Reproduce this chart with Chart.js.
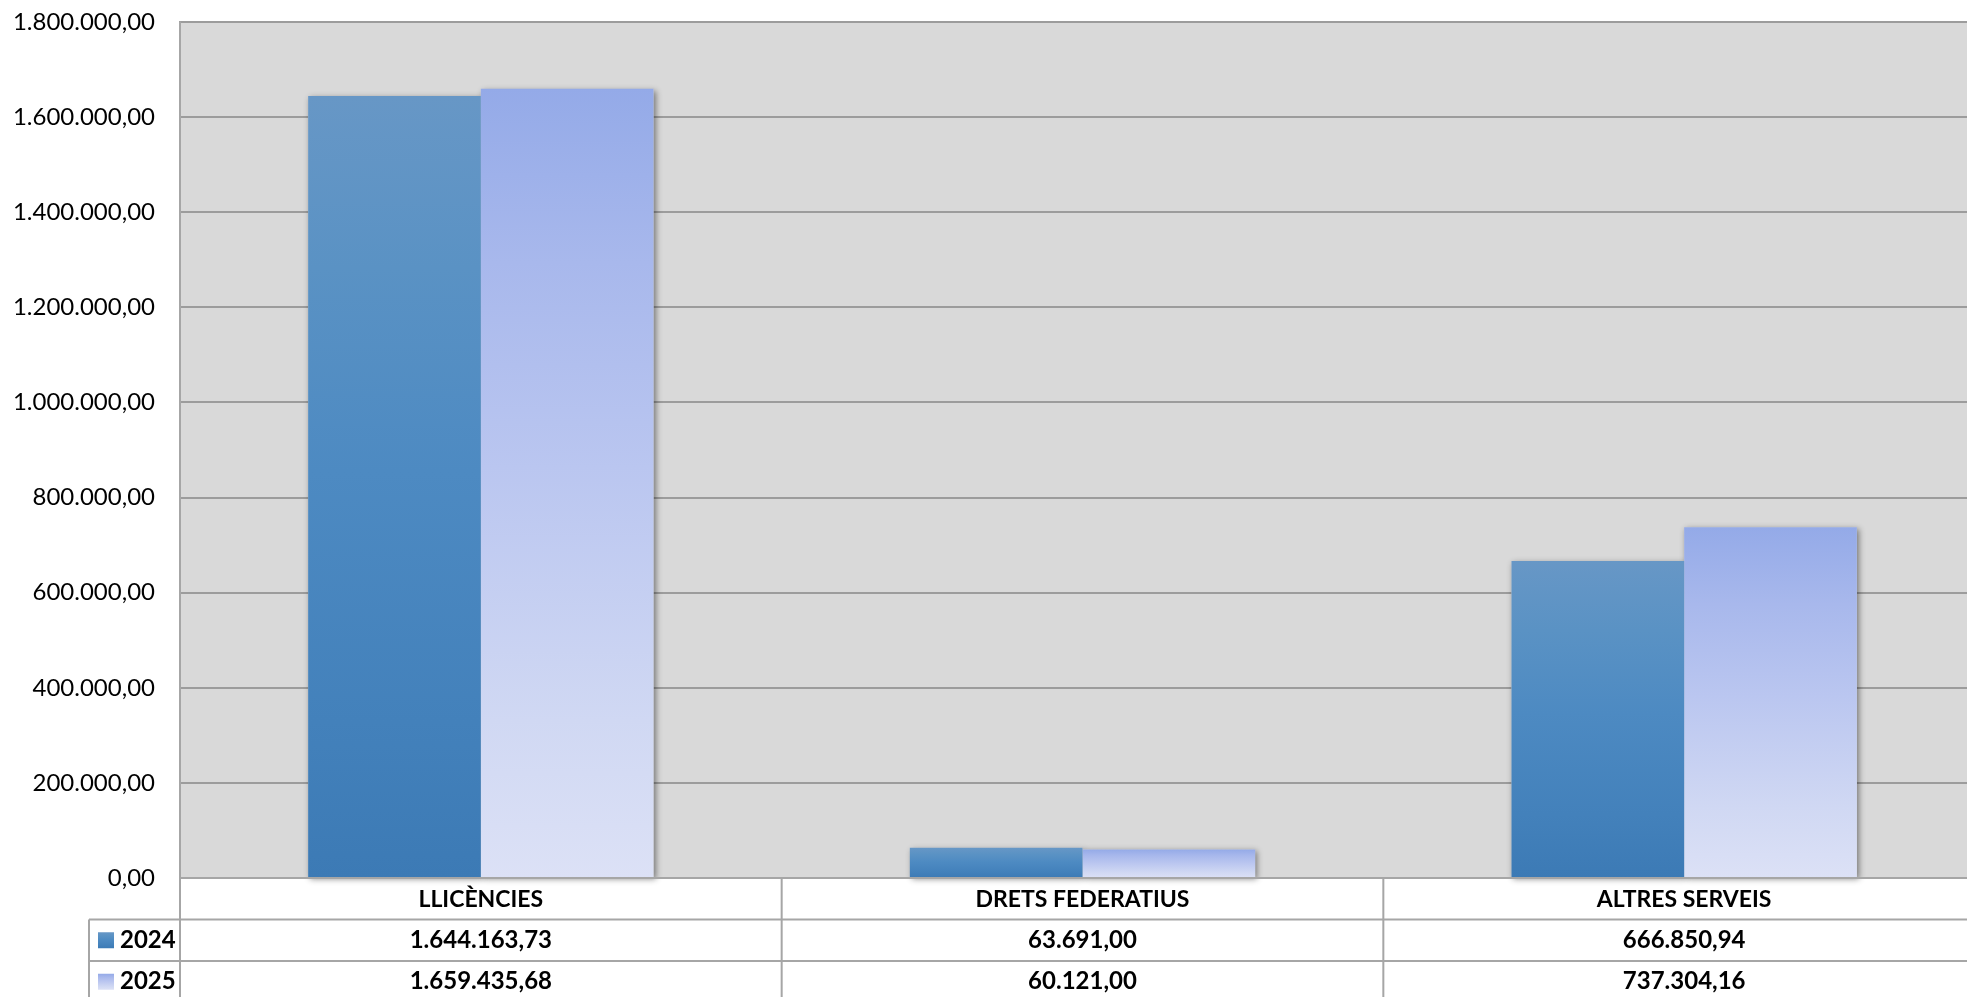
<!DOCTYPE html>
<html>
<head>
<meta charset="utf-8">
<script src="https://cdn.jsdelivr.net/npm/chart.js@4.4.1/dist/chart.umd.min.js"></script>
<style>
    html, body { margin: 0; padding: 0; background: #fff; overflow: hidden; }
    #wrap { width: 1985px; height: 997px; }
</style>
</head>
<body>
<div id="wrap"><canvas id="ingressos"></canvas></div>
<script>
// DADES
const categories = ['LLICÈNCIES', 'DRETS FEDERATIUS', 'ALTRES SERVEIS'];
const years = ['2024', '2025'];
const values2024 = [1644163.73, 63691.00, 666850.94];
const values2025 = [1659435.68, 60121.00, 737304.16];
const yTicks = [0, 200000, 400000, 600000, 800000, 1000000, 1200000, 1400000, 1600000, 1800000];

// colors del degradat (de dalt a baix)
const stops2024 = [[0, '#6797C6'], [0.22, '#5A92C4'], [0.48, '#4D8AC2'], [0.8, '#4381BB'], [1, '#3C7AB5']];
const stops2025 = [[0, '#94AAE8'], [0.22, '#A8B8EC'], [0.48, '#BAC6F0'], [0.8, '#D0D8F3'], [1, '#DCE1F6']];

// format català: 1.644.163,73
function fmt(v) {
    const parts = v.toFixed(2).split('.');
    return parts[0].replace(/\B(?=(\d{3})+(?!\d))/g, '.') + ',' + parts[1];
}

function gradient(ctx, y1, y0, stops) {
    const g = ctx.createLinearGradient(0, y1, 0, y0);
    stops.forEach(s => g.addColorStop(s[0], s[1]));
    return g;
}

function barFill(stops) {
    return function (c) {
        const chart = c.chart;
        if (!chart.chartArea || c.raw === undefined) return stops[0][1];
        const y = chart.scales.y;
        return gradient(chart.ctx, y.getPixelForValue(c.raw), y.getPixelForValue(0), stops);
    };
}

// fons gris de l'àrea del gràfic
const plotBackground = {
    id: 'plotBackground',
    beforeDraw(chart) {
        const { ctx, chartArea: a } = chart;
        ctx.save();
        ctx.fillStyle = '#D9D9D9';
        ctx.fillRect(a.left, a.top, a.right - a.left, a.bottom - a.top);
        ctx.restore();
    }
};

// ombra de les barres
const barShadow = {
    id: 'barShadow',
    beforeDatasetsDraw(chart) {
        const ctx = chart.ctx;
        ctx.save();
        ctx.shadowColor = 'rgba(0, 0, 0, 0.45)';
        ctx.shadowBlur = 6;
        ctx.shadowOffsetX = 2;
        ctx.shadowOffsetY = 2;
        ctx.fillStyle = '#D9D9D9';
        chart.data.datasets.forEach((ds, i) => {
            chart.getDatasetMeta(i).data.forEach(bar => {
                const w = bar.width;
                ctx.fillRect(bar.x - w / 2, bar.y, w, bar.base - bar.y);
            });
        });
        ctx.restore();
    }
};

// taula de dades sota el gràfic
const dataTable = {
    id: 'dataTable',
    afterDraw(chart) {
        const { ctx, chartArea: a } = chart;
        const x = chart.scales.x;
        const rowH = 41.5;
        const legendLeft = 89;
        const top = a.bottom;
        const rows = [top, top + rowH, top + 2 * rowH, top + 3 * rowH];
        const half = (x.getPixelForValue(1) - x.getPixelForValue(0)) / 2;

        ctx.save();
        ctx.strokeStyle = '#A6A6A6';
        ctx.lineWidth = 2;
        ctx.beginPath();
        // línies horitzontals
        ctx.moveTo(a.left, rows[0]); ctx.lineTo(a.right, rows[0]);
        ctx.moveTo(legendLeft, rows[1]); ctx.lineTo(a.right, rows[1]);
        ctx.moveTo(legendLeft, rows[2]); ctx.lineTo(a.right, rows[2]);
        // línies verticals
        ctx.moveTo(legendLeft, rows[1]); ctx.lineTo(legendLeft, rows[3]);
        ctx.moveTo(a.left, a.top); ctx.lineTo(a.left, rows[3]);
        for (let i = 1; i < categories.length; i++) {
            const xx = x.getPixelForValue(i) - half;
            ctx.moveTo(xx, rows[0]); ctx.lineTo(xx, rows[3]);
        }
        ctx.stroke();

        ctx.fillStyle = '#000';
        ctx.textAlign = 'center';
        ctx.textBaseline = 'middle';
        categories.forEach((cat, i) => {
            const cx = x.getPixelForValue(i);
            ctx.font = 'bold 23px Lato';
            ctx.fillText(cat, cx, rows[0] + rowH / 2 + 1);
            ctx.font = 'bold 24px Lato';
            ctx.fillText(fmt(values2024[i]), cx, rows[1] + rowH / 2);
            ctx.fillText(fmt(values2025[i]), cx, rows[2] + rowH / 2);
        });

        // llegenda
        ctx.font = 'bold 24px Lato';
        [stops2024, stops2025].forEach((stops, i) => {
            const cy = rows[i + 1] + rowH / 2;
            ctx.fillStyle = gradient(ctx, cy - 8, cy + 8, stops);
            ctx.fillRect(98, cy - 8, 16, 16);
            ctx.fillStyle = '#000';
            ctx.textAlign = 'left';
            ctx.fillText(years[i], 120, cy);
        });
        ctx.restore();
    }
};

new Chart(document.getElementById('ingressos'), {
    type: 'bar',
    data: {
        labels: categories,
        datasets: [
            { label: years[0], data: values2024, backgroundColor: barFill(stops2024), borderWidth: 0 },
            { label: years[1], data: values2025, backgroundColor: barFill(stops2025), borderWidth: 0 }
        ]
    },
    options: {
        responsive: true,
        maintainAspectRatio: false,
        animation: false,
        layout: { padding: { top: 22, bottom: 119, left: 0, right: 0 } },
        datasets: { bar: { categoryPercentage: 0.574, barPercentage: 1.0 } },
        plugins: { legend: { display: false }, tooltip: { enabled: false } },
        scales: {
            x: { display: false },
            y: {
                min: 0,
                max: 1800000,
                afterFit(scale) {
                    scale.width = 180;
                    scale.paddingTop = 0;
                    scale.paddingBottom = 0;
                },
                afterBuildTicks(scale) { scale.ticks = yTicks.map(v => ({ value: v })); },
                ticks: {
                    padding: 25,
                    color: '#000',
                    font: { family: 'Lato', size: 24 },
                    callback: v => fmt(v)
                },
                grid: { color: '#9C9C9C', lineWidth: 2, drawTicks: false },
                border: { display: true, color: '#A0A0A0', width: 2 }
            }
        }
    },
    plugins: [plotBackground, barShadow, dataTable]
});
</script>
</body>
</html>
